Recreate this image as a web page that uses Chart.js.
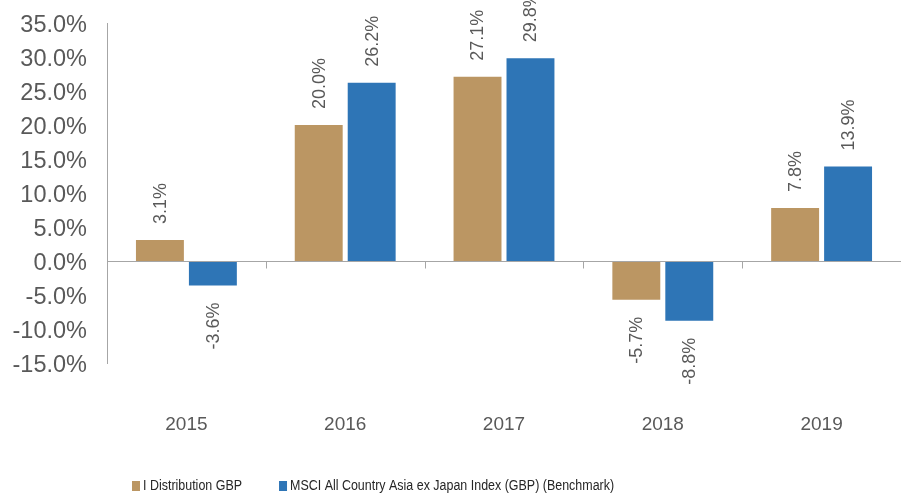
<!DOCTYPE html>
<html>
<head>
<meta charset="utf-8">
<script src="https://cdn.jsdelivr.net/npm/chart.js@4/dist/chart.umd.min.js"></script>
<style>
  body { margin: 0; background: #fff; }
  #chart { display: block; }
</style>
</head>
<body>
<canvas id="chart" width="901" height="495"></canvas>
<script>
const years = ['2015', '2016', '2017', '2018', '2019'];
const fundReturns = [3.1, 20.0, 27.1, -5.7, 7.8];
const benchmarkReturns = [-3.6, 26.2, 29.8, -8.8, 13.9];
const seriesNames = ['I Distribution GBP', 'MSCI All Country Asia ex Japan Index (GBP) (Benchmark)'];
const seriesColors = ['#BB9663', '#2E75B6'];

const axisGrey = '#A6A6A6';
const textGrey = '#595959';

// zero line plus the small marks between the years
const zeroLine = {
    id: 'zeroLine',
    afterDatasetsDraw(chart) {
        const ctx = chart.ctx;
        const xs = chart.scales.x;
        const y0 = Math.round(chart.scales.y.getPixelForValue(0)) + 0.5;
        ctx.save();
        ctx.strokeStyle = axisGrey;
        ctx.lineWidth = 1;
        ctx.beginPath();
        ctx.moveTo(chart.chartArea.left, y0);
        ctx.lineTo(chart.chartArea.right, y0);
        for (let i = 0; i <= years.length; i++) {
            const x = Math.round(xs.getPixelForValue(i - 0.5)) + 0.5;
            ctx.moveTo(x, y0);
            ctx.lineTo(x, y0 + 7);
        }
        ctx.stroke();
        ctx.restore();
    }
};

// value labels written sideways above / below each bar
const barLabels = {
    id: 'barLabels',
    afterDatasetsDraw(chart) {
        const ctx = chart.ctx;
        ctx.save();
        ctx.font = '18px "Liberation Sans", Arial, sans-serif';
        ctx.fillStyle = textGrey;
        ctx.textBaseline = 'middle';
        chart.data.datasets.forEach((ds, i) => {
            chart.getDatasetMeta(i).data.forEach((bar, j) => {
                const v = ds.data[j];
                const text = v.toFixed(1) + '%';
                ctx.save();
                if (v >= 0) {
                    ctx.translate(bar.x, bar.y - 16);
                    ctx.rotate(-Math.PI / 2);
                    ctx.textAlign = 'left';
                } else {
                    ctx.translate(bar.x, bar.y + 17);
                    ctx.rotate(-Math.PI / 2);
                    ctx.textAlign = 'right';
                }
                ctx.fillText(text, 0, 1);
                ctx.restore();
            });
        });
        ctx.restore();
    }
};

// legend drawn by hand so it sits where the original one does
const bottomLegend = {
    id: 'bottomLegend',
    afterDraw(chart) {
        const ctx = chart.ctx;
        const squeeze = 0.89;
        ctx.save();
        ctx.font = '14px "Liberation Sans", Arial, sans-serif';
        ctx.textBaseline = 'middle';
        ctx.textAlign = 'left';
        let x = 132;
        const y = 486;
        chart.data.datasets.forEach((ds, i) => {
            ctx.fillStyle = ds.backgroundColor;
            ctx.fillRect(x, y - 5, 8, 10);
            ctx.fillStyle = '#262626';
            ctx.save();
            ctx.translate(x + 11, y);
            ctx.scale(squeeze, 1);
            ctx.fillText(ds.label, 0, 0);
            ctx.restore();
            x += 11 + ctx.measureText(ds.label).width * squeeze + 37;
        });
        ctx.restore();
    }
};

new Chart(document.getElementById('chart'), {
    type: 'bar',
    data: {
        labels: years,
        datasets: [
            { label: seriesNames[0], data: fundReturns, backgroundColor: seriesColors[0] },
            { label: seriesNames[1], data: benchmarkReturns, backgroundColor: seriesColors[1] }
        ]
    },
    options: {
        responsive: false,
        animation: false,
        categoryPercentage: 0.667,
        barPercentage: 0.905,
        layout: { padding: { top: 23, left: 0, right: 0, bottom: 59 } },
        plugins: {
            legend: { display: false },
            tooltip: { enabled: false }
        },
        scales: {
            x: {
                afterFit(scale) {
                    scale.height = 73;
                    scale.paddingLeft = 0;
                    scale.paddingRight = 0;
                },
                grid: { display: false, drawTicks: false },
                border: { display: false },
                ticks: {
                    padding: 50,
                    color: textGrey,
                    font: { family: '"Liberation Sans", Arial, sans-serif', size: 19 }
                }
            },
            y: {
                min: -15,
                max: 35,
                afterFit(scale) {
                    scale.width = 107;
                    scale.paddingTop = 0;
                    scale.paddingBottom = 0;
                },
                grid: { display: false, drawTicks: false },
                border: { display: true, color: axisGrey, width: 1 },
                ticks: {
                    stepSize: 5,
                    autoSkip: false,
                    padding: 20,
                    labelOffset: 3,
                    color: textGrey,
                    font: { family: '"Liberation Sans", Arial, sans-serif', size: 23.5 },
                    callback: v => v.toFixed(1) + '%'
                }
            }
        }
    },
    plugins: [zeroLine, barLabels, bottomLegend]
});
</script>
</body>
</html>
